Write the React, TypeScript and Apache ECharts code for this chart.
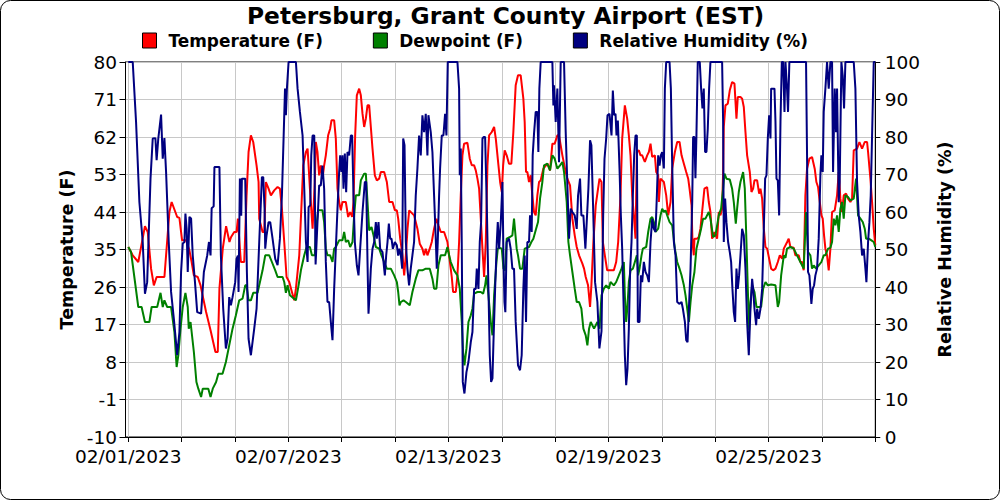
import React, { useEffect, useRef } from "react";
import * as echarts from "echarts";

// Hours since 02/01/2023 00:00 EST, value
const temperature: [number, number][] = [
  [0,35.6],[4,33.6],[9,32],[15,40.6],[17.5,39.2],[20.5,30.4],[23,26.4],[25.5,28.4],[32.5,28.4],[37,44],[39,46.4],[44,42.8],[46,42.6],[48.4,37.2],[52,37.2],[55,34.8],[57,32],[59,28.8],[62.5,28.4],[65,26.4],[70,20],[74,15.6],[78.4,10.4],[80.5,10.4],[82,25.6],[85,35.2],[88,40.6],[91,36.8],[92.5,38],[95.3,39.2],[97.4,39.2],[98.6,42.4],[100.4,35.2],[101.3,32],[104.3,32],[106.4,48],[108.2,58.4],[110.3,62.4],[112.4,60.8],[115.4,55.2],[117.2,51.2],[117.8,42.4],[120.8,39.2],[122.3,39.2],[123.8,51.2],[126.2,49.6],[128.3,48],[131.3,49.2],[134.3,50],[136.4,49.6],[138.2,44.8],[140.3,36.8],[142.4,28.4],[144.8,27.2],[147.2,24.8],[149.3,22.8],[150.8,25.6],[153.8,33.6],[157.4,55.2],[159.8,58.4],[161.3,59.2],[163.4,49.6],[165.8,40],[167.8,51.2],[168.7,60.8],[170.2,58.4],[171.7,52.8],[173.2,55.2],[174.7,52],[176.2,55.2],[177.7,57.6],[179.8,62.4],[181.6,64],[182.8,66],[185.2,66],[186.7,61.6],[188.2,49.6],[189.7,46.4],[191.2,44.4],[192.7,46.4],[195.7,46.4],[197.8,42.8],[199.6,44],[201.4,42.8],[202.6,46.4],[204.1,62.4],[205.6,72],[207.7,73.6],[209.2,72],[210.7,67.6],[212.2,64.4],[213.7,66.4],[215.2,69.6],[216.7,69.6],[218.2,64.4],[219.7,59.2],[221.8,52.8],[223.6,51.6],[225.7,52],[227.2,53.6],[230.2,53.6],[232.6,51.2],[234.7,46.4],[237.7,46.4],[239.8,44.4],[241.6,44.4],[242.8,42.4],[244.6,37.6],[246.7,33.6],[248.2,28.8],[249.7,33.6],[251.2,40],[252.7,44.4],[257.1,43.2],[260.1,40],[262.2,36.4],[264.6,35.2],[266.1,33.6],[267.6,35.2],[269.1,33.6],[271.2,35.2],[273,36.8],[275.1,40],[277.2,42.4],[279,40.8],[281.1,39.2],[284.1,39.2],[287.1,36.8],[288.6,33.6],[291,28.4],[292.2,24.8],[294.6,24.8],[296.1,28.8],[297.6,36.8],[299.1,48],[300.6,57.6],[302.1,60.4],[305.1,60.6],[307.2,56.8],[309,55.2],[311.1,55.2],[312.6,54],[314.1,52],[315.6,49.6],[317.1,42.4],[318.6,35.2],[320.1,28.4],[321.6,36.8],[323.1,55.2],[324.6,62.4],[327,63.2],[329.1,64.4],[330.6,61.6],[333,55.2],[334.5,51.2],[336,48.8],[337.2,55.2],[338.6,58.8],[340.4,57.6],[342.5,55.6],[344.6,55.6],[346.4,63.2],[348.5,74.4],[350.6,76.8],[353,76.8],[355.4,71.2],[356.6,65.6],[357.8,53.6],[359,53.6],[360.5,51.2],[362,52.8],[363.5,48],[365,44],[366.5,43.2],[368,48],[369.5,51.2],[371,51.6],[373.4,54.4],[377,55.6],[379.4,54],[381.5,60.4],[383.6,60.4],[386,62.4],[387.5,62.4],[389,60],[390.5,57.6],[393.5,53.6],[395,52],[397.4,50.4],[399.5,42.4],[401.6,38.4],[403.4,35.6],[405.5,33.6],[408.5,31.6],[410,30.4],[411.5,28.4],[413.6,26.4],[415.4,21.2],[416.6,26.4],[418.4,36.8],[420.5,45.6],[422.6,49.6],[423.9,52],[425.7,51.2],[426.9,36.8],[428.7,33.6],[430.8,30],[436.8,30],[438.9,32],[440.7,36.8],[442.8,48],[444.3,61.6],[446.7,69.6],[448.8,66.4],[450.3,62.4],[451.8,57.6],[453.3,48],[454.8,43.2],[456.3,37.6],[457.5,58.4],[459.3,58.8],[460.8,57.6],[462.3,57.6],[464.7,56],[466.8,57.6],[468.3,58.4],[469.8,60.4],[471.3,57.2],[473.7,57.6],[474.9,53.6],[476.7,52.8],[477.3,46.4],[478.8,52],[481.8,51.2],[483.9,48],[485.7,43.2],[487.8,46.4],[489.3,54.4],[491.7,58.4],[493.8,60.8],[495.9,60.8],[497.7,57.6],[499.8,55.6],[501.9,53.6],[503.7,52],[504.9,49.6],[506.7,45.6],[507.5,37],[508.7,33.6],[509.3,37.6],[511.7,37.6],[513.2,38],[514.7,40],[516.2,44],[518.3,49.6],[520.7,50],[522.2,46.4],[523.7,44],[525.2,37.6],[527.3,39.2],[529.7,37.6],[531.2,44],[532.7,43.2],[534.2,44.8],[535.1,53.6],[535.7,64.4],[537.2,69.6],[539.3,70],[541.1,73.2],[543.2,75.2],[545.3,74.8],[547.1,66.4],[548.3,71.6],[550.7,71.6],[552.2,71.2],[553.7,69.2],[555.2,63.2],[556.7,57.6],[559.1,53.6],[560.6,48.8],[562.1,49.6],[563.3,51.6],[565.7,51.6],[567.5,48.4],[568.7,49.6],[570.2,47.2],[571.7,40],[573.2,35.6],[574.7,35.2],[577.1,32],[578.3,30.4],[580.1,30],[582.2,30.4],[584.3,32],[586.1,33.6],[588.2,32.8],[589.7,35.2],[592.7,36.8],[594.1,37.6],[595.6,35.6],[598.6,35.4],[600.1,33.6],[603.1,33.6],[604.6,32],[606.1,32],[607.6,30],[609.1,48],[610.6,54.4],[612.7,56.8],[615.1,57.2],[617.5,54.4],[619,51.2],[620.5,50],[621.7,47.2],[623.5,43.2],[624.7,42.4],[625.9,38.4],[627.1,35.2],[628.6,33.6],[630.1,30],[631.6,35.2],[633.1,44],[635.5,44.4],[637.6,48],[639.1,53.6],[640.6,47.2],[642.1,44],[643.6,48],[645.7,48.4],[647.5,47.2],[649.6,46.4],[651.1,47.2],[652.6,58.8],[655.6,59.2],[657.7,60.8],[660.1,59.2],[662.5,60.8],[664.6,60.8],[665.5,58.4],[667.6,52],[669.1,46.4],[670.6,40],[672,36]
];

const dewpoint: [number, number][] = [
  [0,35.6],[2.5,34.4],[9,21.2],[12,21.2],[15,17.6],[19,17.6],[21,21.2],[26,21.2],[29,24.6],[31,21.2],[32.5,22.8],[35,21.2],[38.5,21.2],[41.5,15.2],[43.5,6.8],[45,9.6],[47,16],[49,21.2],[51.4,24.6],[53.5,21.2],[54.4,16],[56,17.6],[59,10.4],[61.3,3.2],[63,1.6],[65.5,-0.4],[67,1.6],[72,1.6],[74,-0.4],[76,1.6],[79,3.2],[81,5.2],[84.8,5.2],[87.8,8],[90.8,12],[93.8,16],[96.8,19.2],[99.8,22.8],[102.8,23.2],[105.2,26.4],[106.4,26.4],[108.2,22.8],[110.3,22.8],[112.4,24.6],[116.3,24.6],[117.8,26.4],[120.8,30],[123.2,33.6],[126.8,33.6],[129.2,32],[132.2,30],[134.3,28.4],[138.8,28.4],[140.3,27.2],[141.8,24.6],[143.3,26.4],[145.4,24],[150.8,22.8],[153.2,26.4],[155.3,30],[158.3,33.6],[160.4,35.6],[163.4,35.6],[165.2,33.6],[167.8,33.6],[168.7,39.2],[170.8,44.4],[174.7,44.4],[176.2,41.6],[177.7,35.2],[179.2,33.6],[181.6,33.6],[183.7,32],[185.2,35.2],[186.7,35.6],[189.7,37.2],[192.7,37.2],[194.2,39.2],[195.7,36.8],[197.8,37.2],[199.6,35.6],[201.7,36.8],[203.2,43.2],[204.7,48],[207.7,48],[209.2,51.6],[212.2,53.2],[213.7,53.2],[215.2,46.4],[216.7,39.6],[218.8,40.4],[220.6,38.4],[222.7,35.6],[225.7,35.2],[227.8,33.6],[230.2,32],[232.6,30.4],[236.2,30.4],[239.2,28.8],[241.6,27.2],[242.8,24.8],[244,21.6],[245.2,22.4],[247.6,22.8],[249.7,22.4],[253.2,21.6],[255.6,24.8],[258.6,28],[261,30],[264.6,30],[267.6,30.4],[271.2,30.4],[273.6,28],[275.1,25.6],[277.2,25.6],[279,31.2],[281.1,33.6],[285,33.6],[287.1,35.6],[288.6,33.6],[290.1,32],[293.1,30],[296.1,28.8],[298.2,25.6],[300,17.6],[301.2,10.4],[302.4,7.2],[304.2,11.2],[306,17.6],[308.1,19.2],[309.6,20.8],[311.1,24.4],[314.1,24.8],[317.1,24.8],[319.2,24.4],[321,26.4],[322.2,28.8],[324,24],[326.1,17.6],[327.6,14.4],[329.1,24],[331.2,32],[332.4,35.2],[334.2,35.4],[336,35.2],[337.5,30.4],[339,30],[340.4,37.6],[343.4,38],[345.5,38.4],[347,42.4],[349.4,35.2],[350.6,33.6],[352.4,30.4],[354.5,30.4],[356.6,35.2],[360.5,35.6],[362.6,36.8],[364.4,37.6],[366.5,39.6],[368.6,41.6],[370.4,47.2],[372.5,51.2],[374,55.2],[377,55.6],[379.4,54],[381.5,57.6],[383.6,56.8],[386,54.4],[388.4,55.2],[390.5,56],[392,53.6],[394.4,46.4],[395.9,36.8],[397.4,33.6],[399.5,29.6],[401.6,25.6],[403.4,22.4],[405.5,22.4],[407.6,20.8],[409.4,16],[411.5,14.4],[413,12],[414.5,16],[416,17.6],[419,16],[422,17.6],[423.9,16],[425.7,24],[427.8,25.6],[429.9,26.4],[432.3,25.6],[433.8,27.2],[436.8,26.4],[438.9,27.2],[441.3,28.8],[443.7,30.4],[445.8,32],[446.7,24],[447.9,17.6],[449.1,21.6],[450.3,27.2],[451.8,30],[453.9,30.4],[455.7,32],[457.5,33.6],[458.7,28.8],[459.9,30.4],[461.7,33.6],[462.9,35.2],[465.9,35.6],[467.7,39.2],[469.8,42.4],[471.3,42.8],[472.8,41.6],[474.3,39.2],[476.7,40],[478.8,43.2],[480.3,44.8],[481.8,44],[483.3,44.4],[484.8,43.2],[486.9,41.6],[489.3,40.8],[491.7,35.2],[493.8,32],[495.9,30.4],[497.7,28.8],[499.8,26.4],[501.3,24],[502.8,20.8],[504.3,17.6],[505.8,22.4],[507.3,26.4],[509.3,29.6],[511.1,35.2],[513.2,37.6],[515.3,40],[517.1,42.4],[519.2,42.4],[522.2,44],[523.7,42.4],[526.1,38],[528.2,38.4],[531.2,43.2],[533.3,44.8],[535.1,49.6],[536.3,53.2],[538.1,52],[541.1,51.8],[543.2,49.6],[544.7,46.4],[546.5,41.2],[547.7,44.8],[549.2,48.8],[550.7,51.2],[553.1,53.6],[554.6,49.6],[556.1,36.8],[557.3,25.6],[558.5,15.6],[559.7,22.4],[561.2,26.4],[563.3,24.8],[565.1,21.2],[569.3,21.2],[571.1,25.6],[573.2,27.2],[575.3,26.4],[578.3,26.6],[582.2,26.4],[584.3,21.2],[585.5,22.4],[587.3,28.8],[589.7,33.6],[591.2,33],[592.6,35.2],[595.6,35.6],[598.6,35.2],[601.6,33.6],[604.6,32],[607.6,30.4],[609.7,44],[611.5,34.4],[613.6,33.6],[615.1,30.4],[616.6,31.2],[618.7,30.4],[621.1,31.2],[623.5,32],[625.6,33.6],[627.1,33.6],[629.5,35.2],[631.6,35.4],[633.1,36.8],[634.6,42.4],[636.1,40.8],[637.6,43.2],[639.1,39.2],[640.6,44.8],[642.1,46.4],[643.6,42.4],[645.1,48],[647.5,47.6],[649.6,46.8],[652.6,47.2],[654.7,52],[656.5,43.2],[658.6,42.4],[660.7,41.6],[662.5,40],[663.7,37.6],[666.1,37.6],[668.5,37.2],[670.6,36.8],[672,35.6]
];

const humidity: [number, number][] = [
  [0,100],[4,100],[7,84],[10,62.6],[13,52],[15,38.2],[17,41.3],[20,68.9],[22,79.6],[24.4,79.7],[25.5,73.8],[27,79.6],[29.5,86],[31,74.2],[32.5,79.7],[34,70.7],[36.4,52],[38.5,38.7],[41,31.5],[44,21.8],[46,28],[47.5,44],[49,51.6],[50.5,52],[51.4,59.6],[52.5,55.5],[53.5,44],[55,58.7],[56.5,58.3],[58,48.4],[60,41.3],[62,33.3],[65.5,32.9],[68,44],[71,48.4],[72.6,52],[74,48.4],[75,61],[76.8,61.5],[77.5,72],[82,72],[83.3,48.4],[85.4,34.2],[87.8,23.6],[89.3,26.2],[90.8,37.3],[92.3,35.1],[93.8,37.3],[96.2,41.3],[97.4,47.5],[98.6,48.4],[99.2,38.7],[100.4,68.9],[101.6,59],[102.2,68.9],[105.2,68.9],[106.7,44],[108.2,26.2],[110.3,21.8],[113.3,28.9],[115.4,34.2],[117.8,52],[120.2,69.3],[121.4,69.3],[122.6,60.9],[123.2,50.2],[124.4,53.8],[126.2,57.3],[127.7,57.3],[129.8,52.9],[132.2,47.5],[134.3,45.8],[136.4,52.9],[138.2,64.4],[139.7,79.6],[141,92.9],[141.8,85.8],[142.7,92.9],[144.2,100],[150.8,100],[152.3,92.9],[154.4,86.7],[156.8,80.4],[158.3,66.2],[159.8,52],[161.3,46.7],[162.2,61.3],[163.7,61.8],[164.6,75.1],[165.8,80.4],[167.3,80.4],[168.5,46],[170.2,57.3],[171.7,67.1],[173.2,67.1],[174.7,72.4],[176.2,66.2],[177.7,46.7],[179.2,36],[180.7,36],[182.2,30.7],[183.7,25.8],[185.2,39.5],[186.7,50.2],[188.2,60.9],[189.7,70.7],[190.6,75.1],[191.8,70.7],[192.7,75.1],[193.6,66.2],[194.8,75.6],[196,65.3],[197.2,76],[198.7,75.1],[200.2,80.4],[201.4,80.4],[202.6,64.4],[203.8,52],[205.6,45.8],[207.1,43.1],[208.6,50.2],[210.7,60],[212.8,68],[214,68],[215.2,46.7],[216.1,32.9],[217.3,39.5],[218.2,44.9],[219.7,50.2],[221.2,52],[222.7,57.3],[223.6,52.9],[225.1,57.3],[226.6,50.2],[228.7,49.3],[230.8,43.1],[232,48.4],[233.2,52],[234.4,56.9],[235.6,52.9],[236.8,52.9],[238,50.2],[239.8,52],[241.6,51.1],[242.8,48.4],[244,50.2],[245.2,48.4],[246.4,44.9],[247.3,79.6],[248.5,77.8],[249.7,52],[251.1,44.9],[252.6,40.4],[254.1,44.9],[257.1,52],[258.6,64.4],[260.1,71.6],[261.6,80.4],[263.1,75.1],[264.6,85.8],[266.1,81.3],[267.6,86.2],[269.1,75.1],[270,85.8],[272.1,81.3],[273.6,76],[275.1,64.4],[276.6,52.9],[277.5,44.9],[278.4,52],[279.6,64.4],[280.5,71.6],[282,80.4],[283.5,80.4],[285,86.2],[286.2,80.4],[287.4,100],[296.1,100],[297.6,92.9],[298.2,69.8],[299.1,76.9],[300,51.1],[300.9,14.7],[302.4,11.6],[304.2,17.3],[306,20],[308.1,25.3],[309.6,28],[311.1,39.5],[312.6,39.5],[313.5,44.9],[315,39.5],[316.2,52],[317.4,57.3],[318.6,79.6],[319.8,80],[321,80],[322.5,61.8],[324,39.5],[325.2,21.8],[326.4,14.7],[327.6,15.6],[328.5,25.3],[330,39.5],[331.5,52],[332.4,57.3],[333.6,50.2],[335.1,57.3],[336.6,68],[337.5,48],[338.4,36],[339.2,33.3],[340.4,52],[342.5,52.9],[344,50.2],[345.5,44.9],[347,44.9],[348.5,30.7],[350.6,19.1],[352.4,17.8],[353.9,21.8],[355.4,39.5],[356.6,48.4],[357.8,30.7],[359,52],[360.5,52],[361.4,59.1],[362.9,54.7],[363.8,75.1],[365,80.9],[366.5,86.7],[368,86.7],[368.9,76],[369.8,92.9],[371,100],[381.5,100],[382.4,88.4],[383,93.8],[384.5,84],[386,92.9],[387.5,73.3],[389,100],[392,100],[393.5,81.3],[395,67.1],[396.5,52.9],[398,60.9],[399.5,60],[401.6,59.1],[403.4,55.5],[404.6,64.4],[406.4,68.9],[407.6,59.1],[409.4,59.1],[411.2,50.2],[412.4,57.3],[413.9,66.2],[415.4,79.1],[416.6,77.8],[418.1,61.8],[419.9,41.3],[422,36],[423.8,23.6],[425.7,28.2],[426.3,40.4],[427.2,59.1],[428.4,74.2],[429.9,79.6],[431.1,85.8],[432.9,86.2],[434.7,80.4],[435.9,92.4],[437.1,85.8],[438.3,86.2],[439.2,80.4],[440.4,84.4],[441.9,71.6],[443.1,59.1],[444.3,50.2],[445.5,36],[446.7,21.8],[447.9,13.8],[449.1,18.2],[450.3,28.9],[451.5,44.9],[452.7,52],[453.9,64.4],[455.1,75.1],[456.3,80.4],[457.5,80.4],[458.4,30.7],[459.9,30.7],[461.1,43.1],[462.3,41.3],[463.8,46.7],[465.3,44],[466.8,43.1],[468.3,41.3],[469.8,52],[471.3,58.2],[472.8,55.5],[474.3,54.7],[475.5,64.4],[476.7,75.1],[477.9,72.4],[479.1,75.1],[480.3,76],[481.8,71.6],[482.7,92.9],[483.9,100],[486.9,100],[488.1,92.9],[489.3,72.4],[490.8,52],[492.3,48.4],[493.8,36],[495.9,35.5],[497.7,36],[498.9,34.2],[500.7,30.7],[501.9,25.8],[503.1,25.3],[504.3,34.2],[505.8,44.9],[507.3,62.6],[508.1,80],[509.3,80],[510.2,69],[511.1,80.4],[512.3,100],[514.1,100],[515.3,92.9],[516.5,87.6],[517.7,92.9],[518.9,76],[520.1,76],[521.3,82.2],[522.5,92.9],[523.7,100],[534.2,100],[535.1,84],[535.7,52],[536.9,63.6],[538.1,57.3],[539.6,52],[541.1,49.3],[542.3,46.7],[543.5,39.5],[544.7,33.3],[545.9,30.7],[547.1,44.9],[548.3,39.5],[549.5,43.1],[550.7,48.4],[552.2,55.5],[553.7,53.8],[555.2,44.9],[556.7,30.7],[558.2,21.8],[559.7,34.2],[561.2,42.2],[562.1,39.5],[563.3,34.2],[564.8,29.8],[565.7,34.2],[567.2,31.5],[568.7,34.2],[570.2,39.5],[571.7,55.5],[572.9,68.9],[574.1,69.8],[575.3,79.6],[576.5,85.8],[577.7,79.6],[578.3,92.9],[581.3,92.9],[582.2,84],[583.1,68.9],[584.3,68.4],[585.5,59.1],[586.7,84],[587.9,100],[589.1,100],[590.3,86.7],[591.2,100],[592.6,92.9],[593.5,86.7],[594.7,100],[609.7,100],[610.6,75.1],[611.5,44],[612.7,43.1],[613.6,39.5],[614.5,35.5],[615.7,39.5],[616.9,40.4],[618.1,43.1],[619.6,44.9],[621.1,52.9],[622.6,69.8],[623.5,75.1],[624.7,70.7],[625.6,86.7],[627.1,92.9],[628.6,100],[630.1,92.9],[631.6,100],[633.1,100],[634,70.7],[635.5,92.9],[636.7,81.3],[637.6,92.9],[639.1,62.6],[640,68],[641.5,100],[642.7,96.4],[643.9,87.6],[645.1,100],[652.6,100],[654.1,92.9],[655.6,68],[657.1,59.1],[658.6,54.7],[660.1,48.4],[661.6,50.2],[663.1,44.9],[664,41.3],[665.5,52],[666.7,57.3],[667.9,64.4],[669.1,80.4],[670.6,100],[672,100]
];

const tempTicks = [-10, -1, 8, 17, 26, 35, 44, 53, 62, 71, 80];
const hourTicks = [0, 48, 96, 144, 192, 240, 288, 336, 384, 432, 480, 528, 576, 624, 672];
const hourLabels = [0, 144, 288, 432, 576];
const startUTC = Date.UTC(2023, 1, 1);

const FONT = "DejaVu Sans";

function fmtDate(h: number): string {
  const d = new Date(startUTC + h * 3600000);
  const mm = String(d.getUTCMonth() + 1).padStart(2, "0");
  const dd = String(d.getUTCDate()).padStart(2, "0");
  return `${mm}/${dd}/${d.getUTCFullYear()}`;
}

export default function App() {
  const ref = useRef<HTMLDivElement>(null);
  useEffect(() => {
    if (!ref.current) return;
    const chart = echarts.init(ref.current, null, { renderer: "svg" });
    const labelStyle = { fontFamily: FONT, fontSize: 18.5, color: "#000" };
    const nameStyle = { fontFamily: FONT, fontSize: 17.5, fontWeight: "bold" as const, color: "#000" };
    chart.setOption({
      animation: false,
      backgroundColor: "#fff",
      title: {
        text: "Petersburg, Grant County Airport (EST)",
        left: 247,
        top: 4,
        padding: 0,
        textStyle: { fontFamily: FONT, fontSize: 23.3, fontWeight: "bold", color: "#000" },
      },
      legend: {
        left: 142,
        top: 32,
        padding: 0,
        icon: "rect",
        itemWidth: 14,
        itemHeight: 15,
        itemGap: 50,
        itemStyle: { borderColor: "#000", borderWidth: 1 },
        textStyle: { fontFamily: FONT, fontSize: 16.9, fontWeight: "bold", color: "#000", padding: [0, 0, 0, 7] },
        data: ["Temperature (F)", "Dewpoint (F)", "Relative Humidity (%)"],
      },
      grid: {
        left: 125.5,
        right: 124.7,
        top: 62,
        bottom: 63,
        show: true,
        borderColor: "#000",
        borderWidth: 1,
        containLabel: false,
      },
      xAxis: {
        type: "value",
        min: -2.5,
        max: 672,
        axisLine: { onZero: false, lineStyle: { color: "#000", width: 1 } },
        axisTick: { length: 5, lineStyle: { color: "#000" }, customValues: hourTicks },
        axisLabel: { ...labelStyle, margin: 10, customValues: hourLabels, formatter: (v: number) => fmtDate(v) },
        splitLine: { show: true, lineStyle: { color: "#c8c8c8", width: 1 } },
      },
      yAxis: [
        {
          type: "value",
          min: -10,
          max: 80,
          name: "Temperature (F)",
          nameLocation: "middle",
          nameGap: 50,
          nameTextStyle: nameStyle,
          axisLine: { show: true, onZero: false, lineStyle: { color: "#000", width: 1 } },
          axisTick: { show: true, length: 6, lineStyle: { color: "#000" }, customValues: tempTicks },
          axisLabel: { ...labelStyle, margin: 8.5, customValues: tempTicks },
          splitLine: { show: false },
        },
        {
          type: "value",
          min: 0,
          max: 100,
          interval: 10,
          position: "right",
          name: "Relative Humidity (%)",
          nameLocation: "middle",
          nameGap: 61,
          nameTextStyle: nameStyle,
          axisLine: { show: true, onZero: false, lineStyle: { color: "#000", width: 1 } },
          axisTick: { show: true, length: 5, lineStyle: { color: "#000" } },
          axisLabel: { ...labelStyle, margin: 9.5 },
          splitLine: { show: true, lineStyle: { color: "#c8c8c8", width: 1 } },
        },
      ],
      series: [
        {
          name: "Temperature (F)",
          type: "line",
          yAxisIndex: 0,
          data: temperature,
          showSymbol: false,
          symbol: "none",
          color: "#ff0000",
          lineStyle: { color: "#ff0000", width: 2 },
        },
        {
          name: "Dewpoint (F)",
          type: "line",
          yAxisIndex: 0,
          data: dewpoint,
          showSymbol: false,
          symbol: "none",
          color: "#008000",
          lineStyle: { color: "#008000", width: 2 },
        },
        {
          name: "Relative Humidity (%)",
          type: "line",
          yAxisIndex: 1,
          data: humidity,
          showSymbol: false,
          symbol: "none",
          color: "#000080",
          lineStyle: { color: "#000080", width: 2 },
        },
      ],
      graphic: [
        {
          type: "rect",
          shape: { x: 0.5, y: 0.5, width: 999, height: 499, r: 10 },
          style: { fill: "none", stroke: "#000", lineWidth: 1 },
          silent: true,
          z: 100,
        },
      ],
    });
    return () => chart.dispose();
  }, []);
  return (
    <div
      ref={ref}
      style={{ position: "fixed", left: 0, top: 0, width: 1000, height: 500, background: "#fff" }}
    />
  );
}
